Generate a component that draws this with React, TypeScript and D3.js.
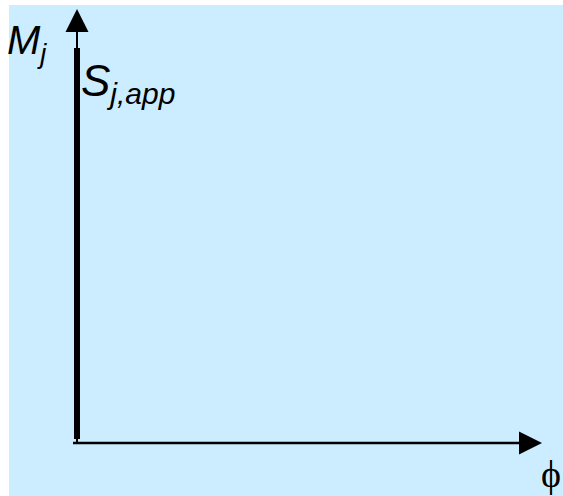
import React from "react";
import * as d3 from "d3";

const W = 563;
const H = 496;

// Axis extents (in data units: phi horizontal, M_j vertical)
const axisMax = [1, 1];
// S_j,app vertical segment at phi = 0 from M = 0.01 to M = 0.91
const segPhi = [0];
const segM = [0.009, 0.91];
const labels = ["M", "j", "S", "j,app", "ϕ"];

export default function App() {
  const x = d3.scaleLinear().domain([0, axisMax[0]]).range([77, 542]);
  const y = d3.scaleLinear().domain([0, axisMax[1]]).range([443, 9]);
  const head = 23;
  const hw = 11.5;
  const x0 = x(0);
  const y0 = y(0);
  const xe = x(axisMax[0]);
  const ye = y(axisMax[1]);
  const line = d3.line<[number, number]>().x((d) => x(d[0])).y((d) => y(d[1]));
  return (
    <svg width={W} height={H} style={{ position: "absolute", left: 0, top: 0, display: "block" }}>
      <rect x={9} y={5} width={W - 9} height={H - 5} fill="#CCECFF" />
      {/* y axis */}
      <line x1={x0} y1={y0 + 1} x2={x0} y2={ye + head} stroke="#000" strokeWidth={2} />
      <path d={`M${x0},${ye} L${x0 - hw},${ye + head} L${x0 + hw},${ye + head} Z`} fill="#000" />
      {/* x axis */}
      <line x1={x0 - 4} y1={y0} x2={xe - head} y2={y0} stroke="#000" strokeWidth={2.5} />
      <path d={`M${xe},${y0} L${xe - head},${y0 - hw} L${xe - head},${y0 + hw} Z`} fill="#000" />
      {/* S_j,app thick segment */}
      <path
        d={line([[segPhi[0], segM[0]], [segPhi[0], segM[1]]]) || ""}
        stroke="#000"
        strokeWidth={6}
        fill="none"
      />
      <text x={7} y={54} fontFamily="Liberation Sans, Arial, sans-serif" fontSize={40} fontStyle="italic">
        {labels[0]}
        <tspan fontSize={27} dy={9}>{labels[1]}</tspan>
      </text>
      <text x={81} y={96} fontFamily="Liberation Sans, Arial, sans-serif" fontSize={44} fontStyle="italic">
        {labels[2]}
        <tspan fontSize={30} dy={8}>{labels[3]}</tspan>
      </text>
      <text x={541} y={487} fontFamily="Liberation Serif, Times New Roman, serif" fontSize={38}>
        {labels[4]}
      </text>
    </svg>
  );
}
